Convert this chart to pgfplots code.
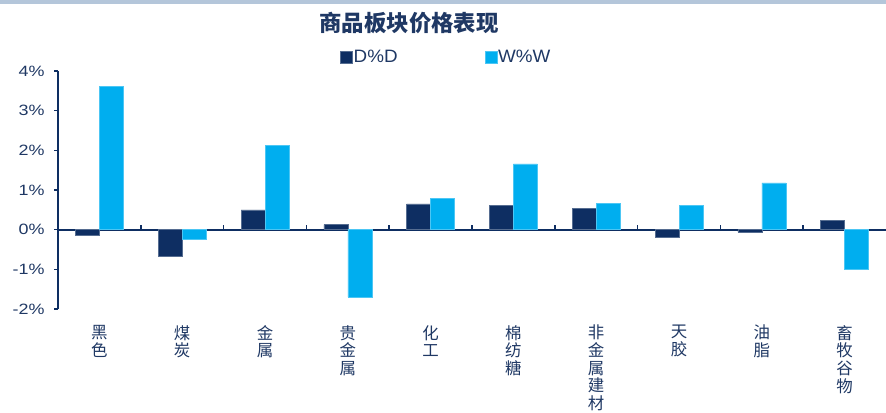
\documentclass[border=0pt]{standalone}
\usepackage{fontspec}
\setmainfont{Liberation Sans}[FakeStretch=1.2]
\newfontfamily\legfont{Liberation Sans}[FakeStretch=1.05]
\newfontfamily\cjk{Noto Sans CJK SC}
\usepackage{pgfplots}
\pgfplotsset{compat=1.18}
\definecolor{navy}{HTML}{0E2E62}
\definecolor{sky}{HTML}{00AEEF}
\definecolor{txt}{HTML}{1F3864}
\definecolor{band}{HTML}{B4C6DA}
\begin{document}
\begin{tikzpicture}[x=1bp,y=1bp]
\useasboundingbox (0,0) rectangle (886,412);
\fill[band] (0,408) rectangle (886,412);
\node[font=\cjk\bfseries\fontsize{22.5}{26}\selectfont, text=txt] at (409,389) {商品板块价格表现};
\begin{axis}[
  at={(58bp,103bp)}, anchor=south west,
  scale only axis, width=828bp, height=238bp,
  xmin=-0.5, xmax=9.5, ymin=-2, ymax=4,
  axis x line*=middle, axis y line*=left,
  ybar=0pt, bar width=24bp,
  xtick={0,...,9},
  xticklabels={黑\\色,煤\\炭,金\\属,贵\\金\\属,化\\工,棉\\纺\\糖,非\\金\\属\\建\\材,天\\胶,油\\脂,畜\\牧\\谷\\物},
  major x tick style={draw=none},
  xticklabel style={yshift=-88bp, align=center, text=txt, font=\cjk\fontsize{16.5}{17.7}\selectfont},
  ytick={-2,-1,0,1,2,3,4},
  yticklabel={\pgfmathprintnumber{\tick}\%},
  /pgf/number format/assume math mode=true,
  ytick align=outside, major tick length=4bp,
  ytick style={navy, line width=1.5bp},
  yticklabel style={text=txt, font=\fontsize{15}{18}\selectfont, xshift=-6bp},
  x axis line style={navy, line width=1.8bp},
  y axis line style={navy, line width=1.5bp},
  legend style={at={(0.337,1.059)}, anchor=west, draw=none, fill=none,
    legend columns=2, font=\legfont\fontsize{18}{20}\selectfont, text=txt,
    nodes={inner sep=1bp},
    /tikz/every even column/.append style={column sep=86bp}},
  legend image code/.code={\fill[#1] (0bp,-6bp) rectangle (12bp,6bp);},
]
\addplot[fill=navy, draw=navy!70!white, line width=0.5bp] coordinates {(0,-0.15) (1,-0.66) (2,0.50) (3,0.13) (4,0.65) (5,0.61) (6,0.54) (7,-0.19) (8,-0.06) (9,0.24)};
\addplot[fill=sky, draw=sky!70!white, line width=0.5bp] coordinates {(0,3.62) (1,-0.25) (2,2.12) (3,-1.70) (4,0.78) (5,1.66) (6,0.67) (7,0.61) (8,1.18) (9,-1.00)};
\legend{D\%D, W\%W}
\pgfplotsinvokeforeach{0.5,1.5,2.5,3.5,4.5,5.5,6.5,7.5,8.5}{
  \draw[navy, line width=1.5bp] (axis cs:#1,0) -- ([yshift=5bp]axis cs:#1,0);
}
\end{axis}
\end{tikzpicture}
\end{document}
